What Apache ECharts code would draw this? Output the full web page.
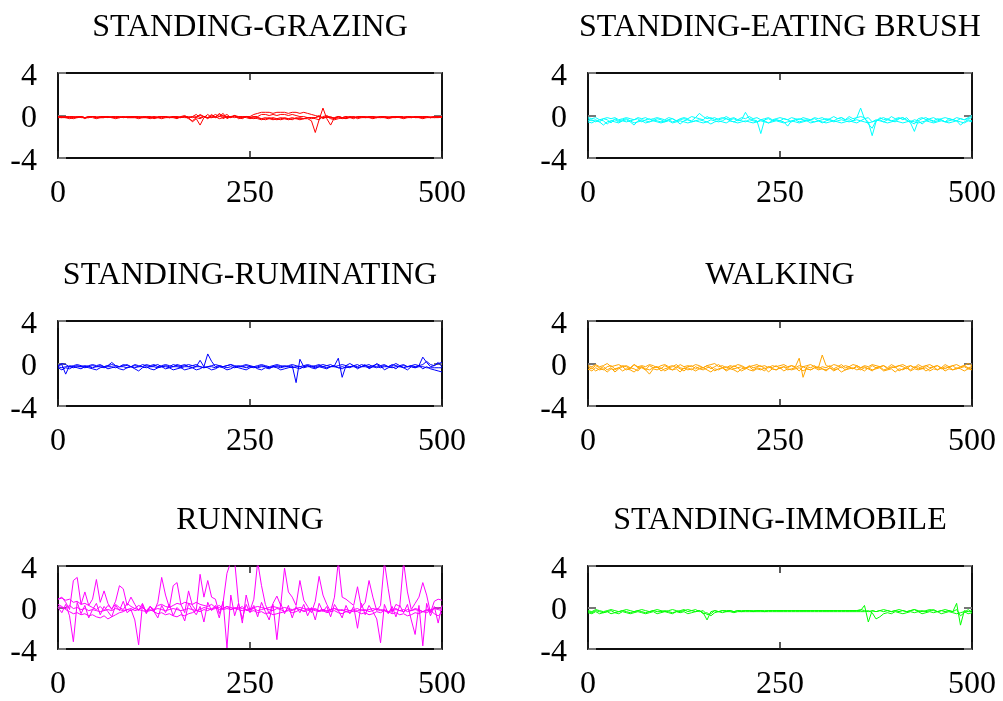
<!DOCTYPE html>
<html>
<head>
<meta charset="utf-8">
<title>Accelerometer signals by behaviour</title>
<script src="https://cdn.jsdelivr.net/npm/echarts@6.0.0/dist/echarts.min.js"></script>
<style>
  html, body { margin: 0; padding: 0; background: #fff; }
  #chart { width: 1003px; height: 701px; }
</style>
</head>
<body>
<div id="chart"></div>
<script>
// sample positions (every 5th sample of the 500-sample window)
const sampleX = [0,5,10,15,20,25,30,35,40,45,50,55,60,65,70,75,80,85,90,95,
  100,105,110,115,120,125,130,135,140,145,150,155,160,165,170,175,180,185,190,195,
  200,205,210,215,220,225,230,235,240,245,250,255,260,265,270,275,280,285,290,295,
  300,305,310,315,320,325,330,335,340,345,350,355,360,365,370,375,380,385,390,395,
  400,405,410,415,420,425,430,435,440,445,450,455,460,465,470,475,480,485,490,495,500];

const xTicks = [0, 250, 500];
const yTicks = [-4, 0, 4];

const titles = ['STANDING-GRAZING', 'STANDING-EATING BRUSH', 'STANDING-RUMINATING',
  'WALKING', 'RUNNING', 'STANDING-IMMOBILE'];
const colors = ['#ff0000', '#00ffff', '#0000ff', '#ffa500', '#ff00ff', '#00ff00'];

// STANDING-GRAZING
const grazingA = [-0.1,-0.1,-0.2,-0.1,-0.2,-0.1,-0.1,-0.3,-0.1,-0.1,-0.2,-0.1,-0.1,-0.2,-0.1,-0.1,-0.2,-0.1,-0.2,-0.1,
  -0.1,-0.2,-0.1,-0.1,-0.2,-0.1,-0.2,-0.1,-0.1,-0.2,-0.1,-0.2,-0.1,0.0,-0.2,-0.6,-0.3,-0.9,-0.2,0.1,
  -0.2,-0.1,0.1,-0.3,-0.1,-0.2,0.0,-0.2,-0.3,-0.1,-0.2,-0.1,-0.2,-0.3,-0.2,-0.3,-0.2,-0.3,-0.2,-0.3,
  -0.3,-0.2,-0.3,-0.2,-0.3,-0.2,-0.3,-0.2,-0.1,-0.2,-0.2,-0.1,-0.3,-0.1,-0.2,-0.1,-0.2,-0.1,-0.2,-0.1,
  -0.1,-0.2,-0.1,-0.2,-0.1,-0.1,-0.2,-0.1,-0.2,-0.1,-0.2,-0.1,-0.2,-0.1,-0.1,-0.2,-0.1,-0.2,-0.1,-0.1,-0.1];
const grazingB = [-0.2,-0.2,-0.1,-0.2,-0.3,-0.2,-0.1,-0.2,-0.2,-0.1,-0.1,-0.2,-0.2,-0.1,-0.2,-0.2,-0.1,-0.2,-0.1,-0.2,
  -0.2,-0.1,-0.2,-0.2,-0.1,-0.3,-0.2,-0.1,-0.2,-0.2,-0.1,-0.2,-0.2,-0.1,-0.1,-0.2,-0.1,0.0,-0.1,-0.2,
  -0.1,0.1,-0.1,0.0,-0.2,-0.1,-0.1,-0.2,-0.1,-0.1,-0.1,0.1,0.2,0.3,0.3,0.3,0.2,0.3,0.3,0.3,
  0.2,0.3,0.3,0.2,0.3,0.2,0.1,0.0,-0.1,-0.2,-0.1,-0.2,-0.2,-0.1,-0.2,-0.3,-0.1,-0.2,-0.1,-0.2,
  -0.2,-0.1,-0.2,-0.1,-0.2,-0.2,-0.1,-0.2,-0.2,-0.1,-0.1,-0.2,-0.2,-0.1,-0.2,-0.1,-0.2,-0.2,-0.1,-0.2,-0.1];
const grazingC = [-0.1,-0.2,-0.1,-0.1,-0.1,-0.2,-0.1,-0.2,-0.1,-0.1,-0.2,-0.1,-0.1,-0.1,-0.2,-0.1,-0.1,-0.2,-0.1,-0.1,
  -0.1,-0.1,-0.2,-0.1,-0.1,-0.2,-0.1,-0.1,-0.1,-0.2,-0.1,-0.1,-0.2,-0.1,-0.2,-0.1,0.1,-0.2,-0.1,-0.2,
  0.1,-0.2,-0.1,0.2,-0.3,-0.1,0.0,-0.1,-0.2,-0.1,-0.2,-0.3,-0.2,-0.3,-0.4,-0.3,-0.4,-0.3,-0.4,-0.3,
  -0.4,-0.3,-0.3,-0.4,-0.3,-0.3,-0.5,-1.6,-0.4,0.7,-0.3,-0.9,-0.2,-0.1,-0.2,-0.1,-0.2,-0.3,-0.1,-0.1,
  -0.2,-0.1,-0.1,-0.2,-0.1,-0.1,-0.2,-0.1,-0.1,-0.1,-0.2,-0.1,-0.1,-0.2,-0.1,-0.1,-0.1,-0.2,-0.1,-0.1,-0.1];
const grazingD = [-0.2,-0.1,-0.2,-0.2,-0.1,-0.2,-0.1,-0.2,-0.2,-0.1,-0.2,-0.2,-0.1,-0.2,-0.1,-0.2,-0.2,-0.1,-0.2,-0.2,
  -0.1,-0.2,-0.1,-0.2,-0.2,-0.1,-0.2,-0.2,-0.1,-0.2,-0.2,-0.1,-0.2,-0.1,-0.3,-0.5,-0.2,0.1,-0.1,-0.3,
  0.0,-0.2,0.2,-0.1,0.1,-0.2,0.0,-0.3,-0.2,-0.1,-0.2,-0.1,-0.1,0.1,0.1,0.0,0.1,0.0,0.1,0.1,
  0.0,0.1,0.0,-0.1,-0.1,-0.2,-0.2,-0.3,-0.4,-0.1,0.0,-0.2,-0.3,-0.2,-0.3,-0.2,-0.1,-0.2,-0.2,-0.1,
  -0.2,-0.2,-0.1,-0.2,-0.2,-0.1,-0.2,-0.2,-0.1,-0.2,-0.2,-0.1,-0.2,-0.1,-0.2,-0.2,-0.1,-0.2,-0.2,-0.1,-0.2];
const grazingE = [-0.1,-0.2,-0.2,-0.3,-0.2,-0.1,-0.2,-0.2,-0.1,-0.2,-0.3,-0.2,-0.2,-0.1,-0.2,-0.3,-0.2,-0.1,-0.2,-0.2,
  -0.2,-0.3,-0.2,-0.2,-0.3,-0.2,-0.2,-0.3,-0.2,-0.1,-0.2,-0.3,-0.1,-0.2,-0.2,-0.1,-0.2,-0.3,-0.1,-0.2,
  -0.2,-0.1,-0.3,-0.2,-0.1,-0.1,-0.2,-0.1,-0.1,-0.2,-0.3,-0.2,-0.3,-0.4,-0.3,-0.2,-0.3,-0.4,-0.3,-0.2,
  -0.3,-0.4,-0.2,-0.3,-0.3,-0.2,-0.2,-0.2,0.0,-0.3,-0.1,-0.3,-0.4,-0.3,-0.2,-0.3,-0.2,-0.1,-0.3,-0.2,
  -0.1,-0.2,-0.3,-0.2,-0.1,-0.2,-0.3,-0.2,-0.1,-0.2,-0.3,-0.2,-0.1,-0.2,-0.2,-0.3,-0.2,-0.1,-0.2,-0.2,-0.1];

// STANDING-EATING BRUSH
const brushA = [-0.3,-0.5,-0.4,-0.6,-0.3,-0.4,-0.7,-0.3,-0.5,-0.4,-0.3,-0.5,-0.4,-0.3,-0.6,-0.4,-0.3,-0.5,-0.3,-0.4,
  -0.6,-0.4,-0.3,-0.5,-0.4,-0.3,-0.4,-0.5,-0.2,0.2,-0.1,-0.3,-0.2,-0.4,-0.3,-0.2,-0.3,-0.4,-0.3,-0.5,
  -0.4,0.3,-0.3,-0.4,-0.5,-1.7,-0.4,-0.3,-0.5,-0.4,-0.5,-0.3,-0.4,-0.6,-0.4,-0.3,-0.4,-0.5,-0.4,-0.3,
  -0.5,-0.4,-0.3,-0.4,-0.5,-0.3,-0.2,-0.4,-0.3,-0.5,-0.2,0.7,-0.3,-0.6,-1.9,-0.6,-0.2,-0.4,-0.3,-0.5,
  -0.4,-0.3,-0.2,-0.4,-0.7,-1.5,-0.5,-0.3,-0.2,-0.4,-0.5,-0.3,-0.4,-0.6,-0.3,-0.4,-0.5,-0.3,-0.4,-0.2,0.0];
const brushB = [-0.5,-0.4,-0.6,-0.4,-0.5,-0.8,-0.5,-0.4,-0.6,-0.5,-0.4,-0.6,-0.9,-0.5,-0.4,-0.5,-0.6,-0.4,-0.5,-0.6,
  -0.5,-0.4,-0.6,-0.5,-0.8,-0.5,-0.4,-0.6,-0.5,-0.4,-0.5,-0.6,-0.4,-0.5,-0.6,-0.5,-0.3,-0.5,-0.6,-0.4,
  -0.5,-0.6,-0.4,-0.5,-0.6,-0.4,-0.5,-0.7,-0.5,-0.4,-0.5,-0.6,-1.0,-0.5,-0.4,-0.6,-0.5,-0.4,-0.5,-0.6,
  -0.5,-0.7,-0.5,-0.4,-0.6,-0.5,-0.4,-0.5,-0.6,-0.5,-0.4,-0.5,-0.3,-0.2,-0.6,-0.4,-0.5,-0.6,-0.4,-0.5,
  -0.6,-0.3,-0.2,-0.5,-0.6,-0.4,-0.5,-0.8,-0.5,-0.4,-0.6,-0.5,-0.4,-0.6,-0.5,-0.4,-0.5,-0.9,-0.6,-0.4,-0.5];
const brushC = [-0.6,-0.7,-0.5,-0.6,-0.9,-0.6,-0.5,-0.6,-0.7,-0.5,-0.6,-0.5,-0.7,-0.6,-0.5,-0.7,-0.6,-0.5,-0.6,-0.7,
  -0.6,-0.5,-0.7,-0.6,-0.5,-0.6,-0.7,-0.6,-0.5,-0.6,-0.7,-0.6,-0.8,-0.6,-0.5,-0.6,-0.7,-0.5,-0.6,-0.7,
  -0.6,-0.5,-0.6,-0.7,-0.6,-0.5,-0.6,-0.7,-0.6,-0.5,-0.6,-0.7,-0.6,-0.5,-0.6,-0.7,-0.6,-0.5,-0.7,-0.6,
  -0.5,-0.6,-0.7,-0.6,-0.5,-0.6,-0.7,-0.6,-0.5,-0.6,-0.7,-0.5,-0.6,-0.7,-0.6,-0.5,-0.4,-0.6,-0.7,-0.6,
  -0.5,-0.6,-0.7,-0.6,-0.5,-0.6,-0.7,-0.6,-0.5,-0.6,-0.7,-0.6,-0.5,-0.6,-0.7,-0.6,-0.5,-0.6,-0.7,-0.5,-0.6];
const brushD = [-0.2,-0.3,-0.2,-0.4,-0.3,-0.2,-0.3,-0.2,-0.4,-0.3,-0.2,-0.3,-0.4,-0.2,-0.3,-0.2,-0.4,-0.3,-0.2,-0.3,
  -0.4,-0.2,-0.3,-0.5,-0.3,-0.2,-0.3,-0.1,-0.2,-0.3,-0.4,-0.1,-0.3,-0.2,-0.4,-0.3,-0.1,-0.3,-0.2,-0.4,
  -0.2,-0.3,-0.1,-0.3,-0.2,-0.4,-0.3,-0.2,-0.4,-0.3,-0.2,-0.3,-0.4,-0.2,-0.3,-0.4,-0.2,-0.3,-0.4,-0.2,
  -0.3,-0.2,-0.4,-0.3,-0.1,-0.3,-0.2,-0.4,-0.1,-0.3,-0.2,-0.1,-0.2,-0.8,-1.2,-0.5,-0.3,-0.2,-0.4,-0.1,
  -0.3,-0.2,-0.4,-0.2,-0.6,-0.8,-0.3,-0.2,-0.4,-0.3,-0.2,-0.4,-0.3,-0.2,-0.3,-0.4,-0.2,-0.3,-0.4,-0.3,-0.2];

// STANDING-RUMINATING
const rumA = [-0.3,-0.4,-0.3,-0.3,-0.4,-0.3,-0.3,-0.4,-0.3,-0.4,-0.3,-0.3,-0.4,-0.3,-0.3,-0.4,-0.3,-0.3,-0.4,-0.3,
  -0.4,-0.3,-0.3,-0.4,-0.3,-0.3,-0.4,-0.3,-0.3,-0.4,-0.3,-0.3,-0.4,-0.3,-0.3,-0.4,-0.3,-0.3,-0.4,-0.3,
  -0.3,-0.4,-0.3,-0.3,-0.4,-0.3,-0.4,-0.3,-0.3,-0.4,-0.3,-0.3,-0.4,-0.3,-0.3,-0.4,-0.3,-0.3,-0.4,-0.3,
  -0.3,-0.4,-0.3,-0.3,-0.4,-0.3,-0.3,-0.4,-0.3,-0.3,-0.4,-0.3,-0.3,-0.4,-0.3,-0.4,-0.3,-0.3,-0.4,-0.3,
  -0.3,-0.4,-0.3,-0.3,-0.4,-0.3,-0.3,-0.4,-0.3,-0.3,-0.4,-0.3,-0.3,-0.4,-0.3,-0.3,-0.4,-0.4,-0.4,-0.4,-0.4];
const rumB = [-0.2,-0.1,-1.0,-0.2,-0.3,-0.2,-0.3,-0.2,-0.3,-0.2,-0.3,-0.2,-0.3,-0.2,0.1,-0.2,-0.3,-0.2,-0.1,-0.3,
  -0.2,-0.3,-0.1,-0.2,-0.3,-0.2,-0.1,-0.3,-0.2,-0.3,-0.1,-0.2,-0.3,-0.2,-0.1,-0.2,-0.3,0.3,-0.3,0.9,
  0.2,-0.3,-0.2,-0.3,-0.2,-0.1,-0.3,-0.2,-0.3,-0.2,-0.3,-0.4,-0.3,-0.2,-0.3,-0.4,-0.3,-0.2,-0.3,-0.2,
  -0.3,-0.2,-1.8,0.4,-0.3,-0.2,-0.3,-0.2,-0.1,-0.3,-0.2,-0.3,-0.2,0.5,-1.3,-0.2,-0.3,-0.2,-0.1,-0.3,
  -0.2,-0.3,-0.2,-0.1,-0.3,-0.2,-0.3,-0.1,-0.2,-0.3,-0.2,-0.3,-0.2,-0.3,-0.2,0.6,0.1,-0.3,-0.2,0.1,-0.3];
const rumC = [-0.4,-0.6,-0.4,-0.5,-0.3,-0.4,-0.5,-0.3,-0.4,-0.5,-0.6,-0.4,-0.3,-0.5,-0.4,-0.3,-0.5,-0.6,-0.4,-0.3,
  -0.5,-0.7,-0.4,-0.3,-0.5,-0.6,-0.4,-0.3,-0.5,-0.4,-0.6,-0.5,-0.4,-0.6,-0.5,-0.4,-0.6,-0.5,-0.3,-0.4,
  -0.6,-0.5,-0.3,-0.4,-0.6,-0.5,-0.3,-0.4,-0.5,-0.6,-0.4,-0.3,-0.5,-0.6,-0.4,-0.5,-0.3,-0.4,-0.6,-0.5,
  -0.4,-0.3,-0.4,-0.5,-0.3,-0.2,-0.4,-0.5,-0.3,-0.4,-0.5,-0.3,-0.2,-0.4,-0.5,-0.3,-0.4,-0.2,-0.5,-0.3,
  -0.1,-0.5,-0.3,-0.4,-0.2,-0.6,-0.4,-0.3,-0.5,-0.2,-0.4,-0.6,-0.3,-0.4,-0.2,-0.5,-0.3,-0.5,-0.6,-0.7,-0.8];
const rumD = [-0.2,0.0,-0.1,-0.3,-0.2,-0.1,-0.2,-0.3,-0.2,-0.1,-0.2,-0.1,-0.3,-0.2,-0.1,-0.2,-0.3,-0.1,-0.2,-0.3,
  -0.1,-0.2,-0.3,-0.1,-0.2,-0.1,-0.3,-0.2,-0.1,-0.2,-0.3,-0.1,-0.2,-0.1,-0.3,-0.2,-0.1,-0.3,-0.4,-0.3,
  -0.2,-0.1,-0.2,-0.3,-0.2,-0.1,-0.2,-0.3,-0.2,-0.1,-0.2,-0.3,-0.2,-0.1,-0.2,-0.3,-0.2,-0.1,-0.2,-0.3,
  -0.2,-0.1,-0.2,-0.3,-0.2,-0.1,-0.2,-0.3,-0.2,-0.1,-0.2,-0.1,-0.3,-0.2,-0.1,-0.2,0.0,-0.2,-0.3,-0.1,
  -0.2,-0.1,-0.3,0.0,-0.2,-0.1,-0.3,-0.2,0.0,-0.2,-0.1,-0.3,-0.2,-0.1,-0.2,-0.1,0.2,-0.1,-0.2,0.0,0.1];

// WALKING
const walkA = [-0.3,-0.5,-0.2,-0.4,-0.6,-0.3,-0.2,-0.5,-0.4,-0.2,-0.3,-0.5,-0.1,-0.4,-0.3,-0.6,-0.2,-0.4,-0.3,-0.5,
  -0.2,-0.4,-0.3,-0.1,-0.4,-0.5,-0.3,-0.2,-0.5,-0.3,-0.4,-0.2,-0.5,-0.3,-0.1,-0.4,-0.3,-0.5,-0.2,-0.4,
  -0.3,-0.5,-0.2,-0.4,-0.3,-0.2,-0.5,-0.3,-0.4,-0.2,-0.5,-0.3,-0.4,-0.2,-0.3,0.5,-1.3,-0.3,-0.4,-0.2,
  -0.5,-0.3,-0.4,-0.2,-0.5,-0.3,-0.1,-0.4,-0.3,-0.5,-0.2,-0.4,-0.3,-0.5,-0.2,-0.4,-0.3,-0.2,-0.5,-0.3,
  -0.4,-0.2,-0.3,-0.5,-0.2,-0.4,-0.3,-0.5,-0.2,-0.4,-0.3,-0.2,-0.5,-0.3,-0.4,-0.2,-0.5,-0.3,-0.2,-0.4,-0.3];
const walkB = [-0.5,-0.7,-0.4,-0.6,-0.5,-0.8,-0.5,-0.6,-0.4,-0.7,-0.5,-0.6,-0.8,-0.5,-0.4,-0.6,-1.0,-0.5,-0.6,-0.4,
  -0.7,-0.5,-0.6,-0.5,-0.8,-0.4,-0.6,-0.5,-0.7,-0.5,-0.4,-0.6,-0.8,-0.5,-0.6,-0.4,-0.7,-0.5,-0.6,-0.8,
  -0.5,-0.4,-0.6,-0.7,-0.5,-0.6,-0.4,-0.8,-0.5,-0.6,-0.4,-0.7,-0.5,-0.6,-0.5,-0.4,-0.7,-0.5,-0.6,-0.4,
  -0.6,-0.5,-0.7,-0.4,-0.6,-0.5,-0.8,-0.6,-0.5,-0.4,-0.6,-0.5,-0.7,-0.4,-0.6,-0.5,-0.4,-0.7,-0.6,-0.5,
  -0.8,-0.5,-0.6,-0.4,-0.7,-0.5,-0.6,-0.5,-0.4,-0.7,-0.5,-0.6,-0.4,-0.7,-0.5,-0.6,-0.4,-0.5,-0.7,-0.5,-0.6];
const walkC = [-0.2,-0.3,-0.1,-0.3,-0.2,0.0,-0.3,-0.2,-0.1,-0.3,-0.2,-0.4,-0.1,-0.3,-0.2,-0.3,-0.1,-0.2,-0.4,-0.2,
  -0.1,-0.3,-0.2,-0.4,-0.1,-0.3,-0.2,-0.3,-0.1,-0.2,-0.4,-0.2,-0.1,0.0,-0.3,-0.2,-0.4,-0.2,-0.3,-0.1,
  -0.2,-0.4,-0.3,-0.2,-0.1,-0.3,-0.2,-0.4,-0.2,-0.3,-0.2,-0.1,-0.3,-0.2,-0.4,-0.2,-0.3,-0.2,-0.1,-0.3,
  -0.4,0.8,-0.2,-0.3,-0.1,-0.2,-0.4,-0.2,-0.3,-0.1,-0.2,-0.4,-0.2,-0.3,-0.1,-0.2,-0.3,-0.2,-0.4,-0.1,
  -0.3,-0.2,-0.1,-0.3,-0.2,-0.4,-0.1,-0.3,-0.2,-0.1,-0.3,-0.2,-0.4,-0.1,-0.3,-0.2,-0.1,-0.3,-0.2,0.0,-0.2];
const walkD = [-0.6,-0.4,-0.7,-0.5,-0.3,-0.6,-0.4,-0.8,-0.5,-0.3,-0.6,-0.4,-0.5,-0.7,-0.3,-0.5,-0.6,-0.4,-0.3,-0.7,
  -0.5,-0.4,-0.6,-0.3,-0.5,-0.7,-0.4,-0.6,-0.3,-0.5,-0.6,-0.4,-0.3,-0.7,-0.5,-0.4,-0.6,-0.3,-0.5,-0.4,
  -0.7,-0.5,-0.3,-0.6,-0.4,-0.5,-0.7,-0.3,-0.5,-0.6,-0.4,-0.3,-0.6,-0.5,-0.4,-0.7,-0.3,-0.5,-0.6,-0.4,
  -0.3,-0.5,-0.6,-0.4,-0.7,-0.5,-0.3,-0.6,-0.4,-0.5,-0.3,-0.6,-0.4,-0.5,-0.7,-0.4,-0.3,-0.6,-0.5,-0.4,
  -0.3,-0.7,-0.5,-0.4,-0.6,-0.3,-0.5,-0.4,-0.7,-0.5,-0.3,-0.6,-0.4,-0.5,-0.3,-0.6,-0.5,-0.4,-0.3,-0.5,-0.4];

// RUNNING
const runA = [0.8,1.0,0.5,-0.2,2.6,2.9,0.3,1.5,0.2,0.8,2.7,0.5,1.6,0.4,-0.2,0.6,2.1,1.8,0.2,1.0,
  0.3,-0.3,0.4,-0.5,0.1,-0.4,0.5,2.9,1.2,0.0,2.1,2.4,0.3,-0.5,1.6,0.2,-0.3,3.2,1.0,2.6,
  1.0,0.8,-0.6,0.5,3.3,4.4,4.5,0.5,-1.5,1.2,-0.3,0.8,4.4,2.1,0.3,-0.6,0.4,1.1,0.2,3.8,
  1.5,1.0,0.2,2.6,0.7,0.1,-0.5,0.6,3.0,1.2,0.3,-0.4,1.0,4.4,1.0,0.8,0.5,0.2,2.0,0.0,
  0.5,2.6,1.0,-0.3,0.2,4.4,1.8,-0.5,0.3,0.1,4.4,1.5,-0.2,0.4,1.0,2.4,1.2,-0.5,0.6,0.8,0.7];
const runB = [0.0,-0.5,0.3,-0.8,-3.3,0.5,-0.6,0.2,-1.0,-0.2,0.4,-0.7,0.1,-0.4,-0.9,0.2,-0.3,0.6,-0.5,-0.2,
  -1.2,-3.6,0.3,-0.6,0.1,-0.4,-1.0,0.2,-0.5,0.3,-0.8,0.0,-0.4,-1.3,0.4,-0.2,-0.7,0.1,-1.4,0.5,
  -0.3,0.2,-1.0,0.6,-3.9,1.2,-0.8,0.4,-1.1,0.3,-0.5,0.2,-0.9,0.5,-0.4,-1.2,0.3,-3.1,0.4,-0.6,
  0.2,-1.0,0.1,-0.5,0.3,-0.8,0.0,-1.2,0.4,-0.4,0.1,-0.9,0.3,-0.3,-1.0,0.2,-0.6,0.1,-2.0,0.4,
  -0.7,0.2,-0.4,-1.1,-3.4,0.3,-0.6,0.1,-0.9,0.2,-0.5,0.3,-1.2,-2.6,0.2,-3.7,0.4,-0.8,0.1,-1.5,0.2];
const runC = [0.8,0.9,0.7,0.8,0.5,0.6,0.3,0.4,0.2,0.0,-0.2,0.1,-0.3,0.2,-0.1,0.3,0.0,-0.2,0.4,0.1,
  -0.1,0.2,0.0,-0.3,0.1,-0.2,0.2,0.3,0.1,0.0,0.2,0.4,0.3,0.5,0.4,0.3,0.5,0.3,0.2,0.1,
  0.3,0.0,0.2,-0.1,0.1,-0.2,0.0,-0.1,0.1,-0.3,-0.2,-0.1,-0.3,-0.2,-0.1,-0.2,-0.3,-0.1,-0.2,-0.4,
  -0.2,-0.3,-0.1,-0.2,-0.4,-0.3,-0.2,-0.1,-0.3,-0.2,-0.4,-0.2,-0.1,-0.3,-0.2,-0.4,-0.3,-0.2,-0.1,-0.3,
  -0.2,-0.4,-0.3,-0.1,-0.2,-0.3,-0.5,-0.2,-0.1,-0.3,-0.4,-0.2,-0.3,-0.1,-0.2,-0.4,-0.3,-0.2,-0.1,0.0,-0.2];
const runD = [0.3,0.1,-0.2,-0.4,-0.6,-0.5,-0.7,-0.6,-0.8,-0.7,-0.9,-1.0,-0.8,-1.1,-0.9,-0.7,-0.5,-0.4,-0.2,-0.3,
  -0.1,-0.2,0.0,-0.3,-0.2,-0.4,-0.6,-0.5,-0.7,-0.6,-0.8,-0.9,-0.7,-0.8,-0.6,-0.5,-0.3,-0.4,-0.2,-0.3,
  -0.1,0.0,-0.2,-0.1,0.1,0.0,-0.1,-0.2,-0.3,-0.2,-0.4,-0.3,-0.5,-0.4,-0.6,-0.5,-0.7,-0.6,-0.5,-0.4,
  -0.3,-0.5,-0.4,-0.2,-0.3,-0.1,-0.2,-0.3,-0.4,-0.3,-0.5,-0.4,-0.3,-0.5,-0.6,-0.4,-0.5,-0.3,-0.4,-0.6,
  -0.5,-0.7,-0.6,-0.4,-0.5,-0.3,-0.4,-0.6,-0.5,-0.7,-0.6,-0.8,-0.7,-0.5,-0.6,-0.4,-0.5,-0.3,-0.6,-0.8,-0.5];
const runE = [0.1,0.0,-0.1,0.2,-0.1,0.0,-0.2,-0.1,-0.3,-0.2,-0.3,-0.4,-0.3,-0.2,-0.3,-0.1,-0.2,-0.3,-0.2,-0.1,
  -0.3,-0.2,-0.3,-0.4,-0.3,-0.2,-0.1,-0.2,-0.3,-0.2,-0.1,-0.2,-0.3,-0.2,-0.1,-0.2,-0.3,-0.2,0.0,-0.1,
  -0.2,-0.1,0.0,-0.2,-0.1,-0.2,-0.1,0.0,-0.1,-0.2,-0.1,0.0,0.1,0.0,-0.1,0.0,0.1,0.0,-0.1,0.0,
  -0.1,-0.2,-0.1,0.0,-0.1,-0.2,-0.1,-0.2,-0.3,-0.2,-0.3,-0.2,-0.1,-0.2,-0.3,-0.2,-0.3,-0.4,-0.3,-0.2,
  -0.3,-0.2,-0.1,-0.2,-0.3,-0.2,-0.4,-0.3,-0.2,-0.3,-0.2,-0.4,-0.3,-0.2,-0.3,-0.4,-0.2,-0.3,-0.1,-0.2,-0.3];

// STANDING-IMMOBILE
const stillA = [-0.4,-0.5,-0.3,-0.4,-0.5,-0.4,-0.3,-0.5,-0.4,-0.3,-0.4,-0.5,-0.4,-0.3,-0.4,-0.5,-0.4,-0.3,-0.4,-0.4,
  -0.3,-0.4,-0.5,-0.4,-0.3,-0.2,-0.4,-0.3,-0.4,-0.3,-0.5,-1.2,-0.4,-0.3,-0.4,-0.3,-0.4,-0.3,-0.4,-0.3,
  -0.4,-0.3,-0.3,-0.4,-0.3,-0.3,-0.4,-0.3,-0.3,-0.3,-0.3,-0.3,-0.3,-0.3,-0.3,-0.3,-0.3,-0.3,-0.3,-0.3,
  -0.3,-0.3,-0.3,-0.3,-0.3,-0.3,-0.3,-0.3,-0.3,-0.3,-0.3,-0.3,0.2,-1.4,-0.3,-0.4,-0.3,-0.4,-0.3,-0.4,
  -0.3,-0.4,-0.3,-0.4,-0.3,-0.2,-0.4,-0.3,-0.4,-0.3,-0.2,-0.4,-0.3,-0.4,-0.3,-0.4,0.4,-1.7,-0.3,-0.4,-0.3];
const stillB = [-0.5,-0.6,-0.4,-0.6,-0.5,-0.4,-0.6,-0.5,-0.6,-0.4,-0.5,-0.6,-0.5,-0.4,-0.5,-0.6,-0.5,-0.4,-0.6,-0.5,
  -0.4,-0.5,-0.6,-0.4,-0.5,-0.4,-0.6,-0.5,-0.4,-0.3,-0.6,-0.5,-0.8,-0.5,-0.4,-0.5,-0.4,-0.4,-0.5,-0.4,
  -0.4,-0.4,-0.4,-0.4,-0.4,-0.4,-0.4,-0.4,-0.4,-0.4,-0.4,-0.4,-0.4,-0.4,-0.4,-0.4,-0.4,-0.4,-0.4,-0.4,
  -0.4,-0.4,-0.4,-0.4,-0.4,-0.4,-0.4,-0.4,-0.4,-0.4,-0.4,-0.4,-0.4,-0.3,-0.5,-1.1,-0.9,-0.6,-0.5,-0.6,
  -0.4,-0.5,-0.6,-0.5,-0.4,-0.5,-0.4,-0.6,-0.5,-0.4,-0.5,-0.4,-0.6,-0.5,-0.4,-0.5,-0.6,-0.5,-0.4,-0.6,-0.5];
const stillC = [-0.3,-0.4,-0.2,-0.3,-0.4,-0.3,-0.2,-0.3,-0.4,-0.3,-0.2,-0.3,-0.4,-0.3,-0.2,-0.3,-0.4,-0.3,-0.2,-0.3,
  -0.4,-0.3,-0.2,-0.3,-0.4,-0.3,-0.2,-0.3,-0.2,-0.4,-0.3,-0.7,-0.6,-0.3,-0.4,-0.3,-0.3,-0.3,-0.4,-0.3,
  -0.3,-0.3,-0.3,-0.3,-0.3,-0.3,-0.3,-0.3,-0.3,-0.3,-0.3,-0.3,-0.3,-0.3,-0.3,-0.3,-0.3,-0.3,-0.3,-0.3,
  -0.3,-0.3,-0.3,-0.3,-0.3,-0.3,-0.3,-0.3,-0.3,-0.3,-0.3,-0.2,-0.3,-0.4,-0.3,-0.4,-0.3,-0.2,-0.3,-0.4,
  -0.3,-0.2,-0.3,-0.4,-0.3,-0.2,-0.3,-0.4,-0.3,-0.2,-0.3,-0.4,-0.3,-0.2,-0.3,-0.4,-0.2,-0.8,-0.5,-0.2,-0.5];

const panels = [
  [grazingA, grazingB, grazingC, grazingD, grazingE],
  [brushA, brushB, brushC, brushD],
  [rumA, rumB, rumC, rumD],
  [walkA, walkB, walkC, walkD],
  [runA, runB, runC, runD, runE],
  [stillA, stillB, stillC]
];

const FONT = 'Liberation Serif, Times New Roman, serif';
const colLeft = [58, 588];
const rowTop = [73, 321, 566];
const rowHeight = [85, 85, 87];
const plotWidth = 384;

function pairs(values) {
  return values.map((v, i) => [sampleX[i], v]);
}

function buildOption() {
  const grid = [], xAxis = [], yAxis = [], title = [], series = [];
  panels.forEach((lines, p) => {
    const row = Math.floor(p / 2), col = p % 2;
    grid.push({
      left: colLeft[col], top: rowTop[row], width: plotWidth, height: rowHeight[row],
      show: true, borderColor: '#000', borderWidth: 1.5, backgroundColor: 'transparent'
    });
    title.push({
      text: titles[p],
      left: colLeft[col] + plotWidth / 2,
      top: rowTop[row] - 61,
      textAlign: 'center',
      padding: 0,
      textStyle: {fontFamily: FONT, fontSize: 32, fontWeight: 'normal', color: '#000'}
    });
    ['bottom', 'top'].forEach(pos => {
      xAxis.push({
        type: 'value', gridIndex: p, position: pos,
        min: xTicks[0], max: xTicks[2], interval: xTicks[1] - xTicks[0],
        axisLine: {show: true, onZero: false, lineStyle: {color: '#000', width: 1.5}},
        axisTick: {show: true, inside: true, length: 7, lineStyle: {color: '#222', width: 1.5}},
        axisLabel: {
          show: pos === 'bottom', margin: 20, color: '#000',
          fontFamily: FONT, fontSize: 32
        },
        splitLine: {show: false}
      });
    });
    ['left', 'right'].forEach(pos => {
      yAxis.push({
        type: 'value', gridIndex: p, position: pos,
        min: yTicks[0], max: yTicks[2], interval: yTicks[1] - yTicks[0],
        axisLine: {show: true, onZero: false, lineStyle: {color: '#000', width: 1.5}},
        axisTick: {show: true, inside: true, length: 8, lineStyle: {color: '#777', width: 2}},
        axisLabel: {
          show: pos === 'left', margin: 21,
          formatter: '{v|{value}}',
          rich: {
            v: {color: '#000', fontFamily: FONT, fontSize: 32, padding: [7, 0, 0, 0]}
          }
        },
        splitLine: {show: false}
      });
    });
    lines.forEach(values => {
      series.push({
        type: 'line',
        xAxisIndex: p * 2,
        yAxisIndex: p * 2,
        data: pairs(values),
        symbol: 'none',
        clip: true,
        lineStyle: {color: colors[p], width: 1},
        silent: true
      });
    });
  });
  return {
    backgroundColor: '#fff',
    animation: false,
    title, grid, xAxis, yAxis, series
  };
}

const chart = echarts.init(document.getElementById('chart'), null, {renderer: 'canvas'});
chart.setOption(buildOption());
</script>
</body>
</html>
